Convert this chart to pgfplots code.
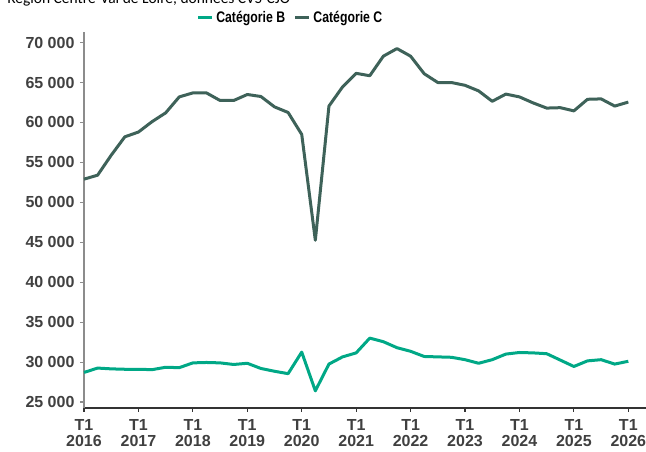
\documentclass[border=0pt]{standalone}
\usepackage{fontspec}
\setmainfont{Liberation Sans}
\newfontfamily\titlefont{Carlito}
\newfontfamily\narrowfont[FakeStretch=0.8]{Liberation Sans}
\usepackage{pgfplots}
\pgfplotsset{compat=1.18}

\definecolor{catB}{HTML}{00A886}
\definecolor{catC}{HTML}{3E6259}
\definecolor{txt}{HTML}{404040}

% one pixel of the reference
\newlength{\px}
\setlength{\px}{0.75pt}

\pgfplotstableread{
i B C
0 28700 52900
1 29250 53400
2 29150 55900
3 29100 58200
4 29100 58800
5 29050 60100
6 29350 61200
7 29300 63200
8 29900 63700
9 29950 63700
10 29900 62750
11 29700 62750
12 29850 63500
13 29200 63250
14 28850 61950
15 28550 61250
16 31250 58500
17 26400 45250
18 29750 62050
19 30650 64450
20 31150 66150
21 33000 65850
22 32550 68300
23 31800 69250
24 31350 68300
25 30700 66100
26 30650 65000
27 30600 65000
28 30300 64650
29 29850 63950
30 30300 62650
31 31000 63550
32 31200 63200
33 31150 62450
34 31050 61800
35 30250 61850
36 29450 61450
37 30150 62900
38 30300 62950
39 29750 62050
40 30100 62550
}\quarterly

\begin{document}
\begin{tikzpicture}[x=\px,y=\px]
\begin{axis}[
    at={(0,0)}, anchor=south west,
    scale only axis,
    width=562\px, height=376\px,
    xmin=0, xmax=41.3,
    ymin=24250, ymax=71325,
    axis x line*=bottom,
    axis y line*=left,
    x axis line style={black!80, line width=0.8pt},
    y axis line style={black!45, line width=0.8pt},
    xtick={0,4,...,40},
    xticklabels={2016,2017,2018,2019,2020,2021,2022,2023,2024,2025,2026},
    xticklabel={\begin{tabular}{@{}c@{}}T1\\[-2.2pt]\pgfmathparse{2016+\tick/4}\pgfmathprintnumber[int detect,1000 sep={}]{\pgfmathresult}\end{tabular}},
    ytick={25000,30000,...,70000},
    scaled y ticks=false,
    yticklabels={25 000,30 000,35 000,40 000,45 000,50 000,55 000,60 000,65 000,70 000},
    tick align=outside,
    major tick length=3.5\px,
    x tick style={black!80, line width=0.8pt},
    y tick style={black!45, line width=0.8pt},
    tick label style={font=\bfseries\fontsize{12pt}{14pt}\selectfont, text=txt},
    /pgf/number format/assume math mode=true,
    xticklabel style={yshift=-1pt},
    yticklabel style={xshift=-1pt},
    legend style={at={(0.368,1.038)}, anchor=center, draw=none, fill=none,
        font=\narrowfont\bfseries\fontsize{11.5pt}{13pt}\selectfont, text=black,
        /tikz/every even column/.append style={column sep=6\px}},
    legend columns=2,
    legend image code/.code={\draw[#1, line width=3\px] (0,0) -- (14\px,0);},
    clip=false,
]
\addplot[catB, line width=3\px, line join=round] table[x=i, y=B] {\quarterly};
\addlegendentry{Catégorie B}
\addplot[catC, line width=3\px, line join=round] table[x=i, y=C] {\quarterly};
\addlegendentry{Catégorie C}
\end{axis}
\node[anchor=base west, font=\titlefont\fontsize{11.6pt}{13pt}\selectfont, inner sep=0pt] at (-77,405) {Région Centre-Val de Loire, données CVS-CJO};
\pgfresetboundingbox
\useasboundingbox (-84,-43) rectangle (562,408);
\end{tikzpicture}
\end{document}
